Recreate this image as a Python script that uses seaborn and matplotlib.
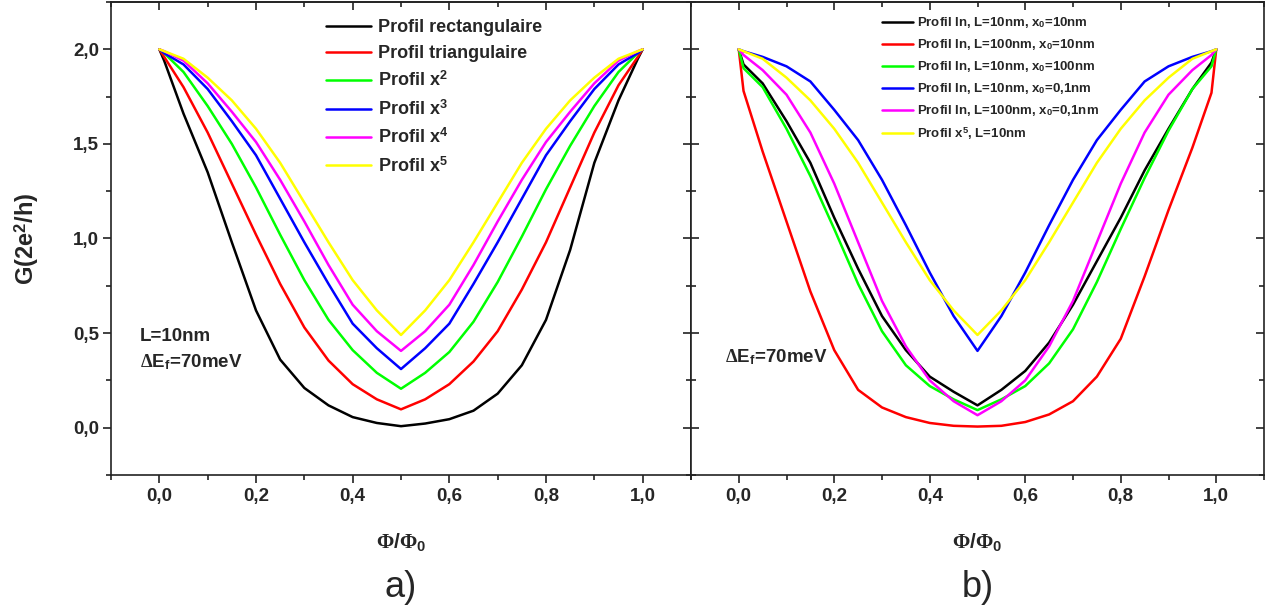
import numpy as np
import pandas as pd
import matplotlib
matplotlib.use('Agg')
import matplotlib.pyplot as plt
from matplotlib.ticker import MultipleLocator, FuncFormatter
import seaborn as sns

# data (G in units of 2e^2/h)
phi = [0.0, 0.01, 0.05, 0.1, 0.15, 0.2, 0.25, 0.3, 0.35, 0.4, 0.45, 0.5,
       0.55, 0.6, 0.65, 0.7, 0.75, 0.8, 0.85, 0.9, 0.95, 0.99, 1.0]

# panel a)
g_rect = [2.0, 1.94, 1.66, 1.35, 0.98, 0.62, 0.36, 0.21, 0.118, 0.056, 0.025, 0.008,
          0.022, 0.045, 0.09, 0.18, 0.33, 0.57, 0.94, 1.40, 1.73, 1.95, 2.0]
g_tri = [2.0, 1.96, 1.80, 1.56, 1.29, 1.02, 0.76, 0.53, 0.355, 0.23, 0.15, 0.097,
         0.15, 0.23, 0.35, 0.51, 0.73, 0.98, 1.27, 1.56, 1.81, 1.96, 2.0]
g_x2 = [2.0, 1.98, 1.88, 1.70, 1.50, 1.27, 1.02, 0.78, 0.57, 0.41, 0.29, 0.206,
        0.29, 0.40, 0.56, 0.77, 1.01, 1.26, 1.49, 1.70, 1.88, 1.98, 2.0]
g_x3 = [2.0, 1.98, 1.92, 1.79, 1.62, 1.44, 1.21, 0.98, 0.76, 0.55, 0.42, 0.31,
        0.42, 0.55, 0.76, 0.98, 1.21, 1.44, 1.62, 1.79, 1.92, 1.98, 2.0]
g_x4 = [2.0, 1.99, 1.94, 1.82, 1.67, 1.51, 1.31, 1.09, 0.86, 0.65, 0.51, 0.406,
        0.51, 0.65, 0.86, 1.09, 1.31, 1.51, 1.67, 1.82, 1.94, 1.99, 2.0]
g_x5 = [2.0, 1.99, 1.95, 1.85, 1.73, 1.58, 1.40, 1.19, 0.98, 0.78, 0.62, 0.49,
        0.62, 0.78, 0.98, 1.19, 1.40, 1.58, 1.73, 1.85, 1.95, 1.99, 2.0]

# panel b)
g_ln_10_10 = [2.0, 1.92, 1.82, 1.62, 1.40, 1.11, 0.84, 0.59, 0.41, 0.27, 0.19, 0.118,
              0.20, 0.30, 0.45, 0.65, 0.88, 1.11, 1.36, 1.58, 1.79, 1.93, 2.0]
g_ln_100_10 = [2.0, 1.78, 1.46, 1.09, 0.72, 0.41, 0.20, 0.107, 0.056, 0.025, 0.01, 0.006,
               0.01, 0.03, 0.07, 0.14, 0.27, 0.47, 0.80, 1.15, 1.48, 1.77, 2.0]
g_ln_10_100 = [2.0, 1.90, 1.80, 1.58, 1.33, 1.05, 0.76, 0.51, 0.33, 0.22, 0.15, 0.093,
               0.15, 0.22, 0.34, 0.52, 0.77, 1.05, 1.32, 1.57, 1.79, 1.91, 2.0]
g_ln_10_01 = [2.0, 1.99, 1.96, 1.91, 1.83, 1.68, 1.52, 1.31, 1.07, 0.82, 0.59, 0.406,
              0.59, 0.82, 1.07, 1.31, 1.52, 1.68, 1.83, 1.91, 1.96, 1.99, 2.0]
g_ln_100_01 = [2.0, 1.97, 1.89, 1.76, 1.56, 1.29, 0.98, 0.67, 0.43, 0.25, 0.14, 0.066,
               0.14, 0.25, 0.43, 0.67, 0.98, 1.29, 1.56, 1.76, 1.89, 1.97, 2.0]

labels_a = ['Profil rectangulaire', 'Profil triangulaire', r'Profil x$^{\mathbf{2}}$',
            r'Profil x$^{\mathbf{3}}$', r'Profil x$^{\mathbf{4}}$', r'Profil x$^{\mathbf{5}}$']
labels_b = [r'Profil ln, L=10nm, x$_{\mathbf{0}}$=10nm',
            r'Profil ln, L=100nm, x$_{\mathbf{0}}$=10nm',
            r'Profil ln, L=10nm, x$_{\mathbf{0}}$=100nm',
            r'Profil ln, L=10nm, x$_{\mathbf{0}}$=0,1nm',
            r'Profil ln, L=100nm, x$_{\mathbf{0}}$=0,1nm',
            r'Profil x$^{\mathbf{5}}$, L=10nm']
series_a = [g_rect, g_tri, g_x2, g_x3, g_x4, g_x5]
series_b = [g_ln_10_10, g_ln_100_10, g_ln_10_100, g_ln_10_01, g_ln_100_01, g_x5]
colors = ['#000000', '#ff0000', '#00ff00', '#0000ff', '#ff00ff', '#ffff00']

x_major = [0.0, 0.2, 0.4, 0.6, 0.8, 1.0]
y_major = [0.0, 0.5, 1.0, 1.5, 2.0]

sns.set_style('white')
plt.rcParams['font.family'] = ['Liberation Sans', 'DejaVu Sans']
plt.rcParams['font.weight'] = 'bold'
plt.rcParams['mathtext.fontset'] = 'custom'
plt.rcParams['mathtext.rm'] = 'Liberation Serif'
plt.rcParams['mathtext.it'] = 'Liberation Serif:italic'
plt.rcParams['mathtext.bf'] = 'Liberation Sans:bold'
plt.rcParams['axes.linewidth'] = 1.2


def long_df(series, labels):
    rows = []
    for lab, ys in zip(labels, series):
        rows.append(pd.DataFrame({'phi': phi, 'G': ys, 'profil': lab}))
    return pd.concat(rows, ignore_index=True)


comma = FuncFormatter(lambda v, p: f'{v:.1f}'.replace('.', ','))

fig = plt.figure(figsize=(12.65, 6.11), dpi=100)
W, H = 1265, 611
ax1 = fig.add_axes([111 / W, (H - 475) / H, 580 / W, 473 / H])
ax2 = fig.add_axes([691 / W, (H - 475) / H, 573 / W, 473 / H])

for ax, series, labels in [(ax1, series_a, labels_a), (ax2, series_b, labels_b)]:
    df = long_df(series, labels)
    sns.lineplot(data=df, x='phi', y='G', hue='profil', hue_order=labels,
                 palette=colors, sort=False, estimator=None, linewidth=1.8, ax=ax)
    ax.set_xlim(-0.1, 1.1)
    ax.set_ylim(-0.25, 2.25)
    ax.set_xticks(x_major)
    ax.set_yticks(y_major)
    ax.xaxis.set_minor_locator(MultipleLocator(0.1))
    ax.yaxis.set_minor_locator(MultipleLocator(0.25))
    ax.xaxis.set_major_formatter(comma)
    ax.yaxis.set_major_formatter(comma)
    ax.set_xlabel('')
    ax.set_ylabel('')
    for s in ax.spines.values():
        s.set_color('#222222')
        s.set_linewidth(1.2)
    ax.tick_params(axis='x', which='both', direction='out', bottom=True, top=False,
                   labelsize=13.5, pad=3.5, width=1.2, color='#222222')
    ax.tick_params(which='major', length=5.5)
    ax.tick_params(which='minor', length=3.5)
    # top axis ticks pointing in
    sec = ax.secondary_xaxis('top')
    sec.set_xticks(x_major)
    sec.xaxis.set_minor_locator(MultipleLocator(0.1))
    sec.tick_params(axis='x', which='both', direction='in', labeltop=False,
                    width=1.2, color='#222222')
    sec.tick_params(which='major', length=5.5)
    sec.tick_params(which='minor', length=3.5)
    sec.spines['top'].set_linewidth(1.2)
    ax.text(0.5, -0.142, r'$\mathrm{\Phi}$/$\mathrm{\Phi}_{\mathbf{0}}$', transform=ax.transAxes,
            ha='center', va='center', fontsize=15)

# left panel y axis: ticks out on the left, in on the right
ax1.tick_params(axis='y', which='both', direction='out', left=True, right=False,
                labelsize=13.5, pad=3, width=1.2, color='#222222')
secy = ax1.secondary_yaxis('right')
secy.set_yticks(y_major)
secy.yaxis.set_minor_locator(MultipleLocator(0.25))
secy.tick_params(axis='y', which='both', direction='in', labelright=False,
                 width=1.2, color='#222222')
secy.tick_params(which='major', length=5.5)
secy.tick_params(which='minor', length=3.5)

# right panel y axis: ticks in on both sides, no labels
ax2.tick_params(axis='y', which='both', direction='in', left=True, right=True,
                labelleft=False, width=1.2, color='#222222')

ax1.text(-0.145, 0.5, r'G(2e$^{\mathbf{2}}$/h)', transform=ax1.transAxes, rotation=90,
         ha='center', va='center', fontsize=17)

ax1.legend(loc='upper left', bbox_to_anchor=(0.371, 0.964), frameon=False, fontsize=13,
           handlelength=2.5, handletextpad=0.35, labelspacing=0.5, borderpad=0,
           borderaxespad=0)
ax2.legend(loc='upper left', bbox_to_anchor=(0.333, 0.972), frameon=False, fontsize=9.5,
           handlelength=2.35, handletextpad=0.3, labelspacing=0.53, borderpad=0,
           borderaxespad=0)

ax1.text(0.05, 0.292, 'L=10nm', transform=ax1.transAxes, ha='left', va='center', fontsize=13.5)
ax1.text(0.05, 0.239, r'$\mathrm{\Delta}$E$_{\mathbf{f}}$=70meV', transform=ax1.transAxes,
         ha='left', va='center', fontsize=13.5)
ax2.text(0.059, 0.249, r'$\mathrm{\Delta}$E$_{\mathbf{f}}$=70meV', transform=ax2.transAxes,
         ha='left', va='center', fontsize=13.5)

ax1.text(0.5, -0.237, 'a)', transform=ax1.transAxes, ha='center', va='center',
         fontsize=26, fontweight='normal')
ax2.text(0.5, -0.237, 'b)', transform=ax2.transAxes, ha='center', va='center',
         fontsize=26, fontweight='normal')

fig.savefig('out.png', dpi=100)
